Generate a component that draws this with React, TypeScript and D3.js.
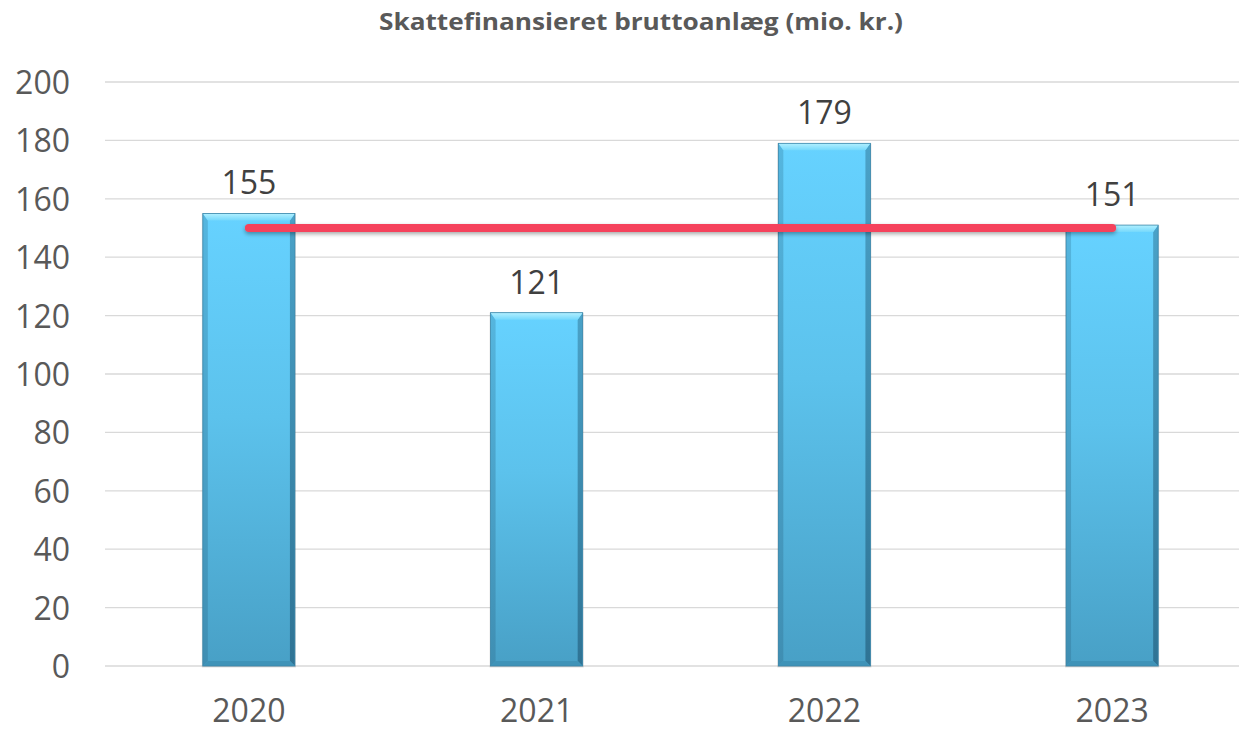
import React from "react";
import * as d3 from "d3";

const categories = ["2020", "2021", "2022", "2023"];
const values = [155, 121, 179, 151];
const averageValue = 150;
const yTicks = [0, 20, 40, 60, 80, 100, 120, 140, 160, 180, 200];
const title = "Skattefinansieret bruttoanlæg (mio. kr.)";

const W = 1239;
const H = 730;
const margin = { left: 105, right: -17, top: 82, bottom: 64 };

export default function App() {
  const x = d3
    .scaleBand<string>()
    .domain(categories)
    .range([margin.left, W - margin.right])
    .paddingInner(0.68)
    .paddingOuter(0.34);
  const y = d3.scaleLinear().domain([0, 200]).range([H - margin.bottom, margin.top]);
  const bw = x.bandwidth();
  const font = "'Open Sans', sans-serif";
  const bev = 5;
  const bevTop = 7;
  const lineY = y(averageValue);
  const lx1 = x(categories[0])! + bw / 2;
  const lx2 = x(categories[categories.length - 1])! + bw / 2;

  return (
    <svg width={W} height={H} style={{ position: "absolute", left: 0, top: 0, background: "#fff" }}>
      <defs>
        <linearGradient id="barV" x1="0" y1="0" x2="0" y2="1">
          <stop offset="0%" stopColor="#66d2ff" />
          <stop offset="45%" stopColor="#5cc2ec" />
          <stop offset="100%" stopColor="#48a0c6" />
        </linearGradient>
        <linearGradient id="sideL" x1="0" y1="0" x2="0" y2="1">
          <stop offset="0%" stopColor="#55b6df" />
          <stop offset="100%" stopColor="#3f8eb2" />
        </linearGradient>
        <linearGradient id="sideR" x1="0" y1="0" x2="0" y2="1">
          <stop offset="0%" stopColor="#4aa2c8" />
          <stop offset="100%" stopColor="#2f7394" />
        </linearGradient>
        <linearGradient id="topBev" x1="0" y1="0" x2="0" y2="1">
          <stop offset="0%" stopColor="#b2f0ff" />
          <stop offset="100%" stopColor="#74d8fc" />
        </linearGradient>
        <filter
          id="shadow"
          filterUnits="userSpaceOnUse"
          x={lx1 - 20}
          y={lineY - 20}
          width={lx2 - lx1 + 40}
          height={40}
        >
          <feGaussianBlur in="SourceAlpha" stdDeviation="2" />
          <feOffset dx="0" dy="2" result="b" />
          <feComponentTransfer>
            <feFuncA type="linear" slope="0.35" />
          </feComponentTransfer>
          <feMerge>
            <feMergeNode />
            <feMergeNode in="SourceGraphic" />
          </feMerge>
        </filter>
      </defs>
      <text
        x={641}
        y={30}
        textAnchor="middle"
        fontFamily={font}
        fontWeight={700}
        fontSize={24}
        fill="#595959"
        textLength={524}
        lengthAdjust="spacingAndGlyphs"
      >
        {title}
      </text>
      {yTicks.map((t) => (
        <g key={t}>
          <line x1={margin.left} x2={W} y1={y(t)} y2={y(t)} stroke="#d9d9d9" strokeWidth={1.3} />
          <text
            x={70}
            y={y(t) + 12}
            textAnchor="end"
            fontFamily={font}
            fontSize={32}
            fill="#595959"
          >
            {t}
          </text>
        </g>
      ))}
      {categories.map((c, i) => {
        const x0 = x(c)!;
        const yt = y(values[i]);
        const yb = y(0);
        const h = yb - yt;
        return (
          <g key={c}>
            <rect x={x0 - 1} y={yt} width={bw + 2} height={h + 1.5} fill="#000" opacity={0.12} />
            <rect x={x0} y={yt} width={bw} height={h} fill="url(#barV)" />
            <polygon
              points={`${x0},${yt} ${x0 + bev},${yt + bevTop} ${x0 + bev},${yb - bev} ${x0},${yb}`}
              fill="url(#sideL)"
            />
            <polygon
              points={`${x0 + bw},${yt} ${x0 + bw - bev},${yt + bevTop} ${x0 + bw - bev},${yb - bev} ${x0 + bw},${yb}`}
              fill="url(#sideR)"
            />
            <polygon
              points={`${x0},${yt} ${x0 + bw},${yt} ${x0 + bw - bev},${yt + bevTop} ${x0 + bev},${yt + bevTop}`}
              fill="url(#topBev)"
            />
            <polygon
              points={`${x0},${yb} ${x0 + bw},${yb} ${x0 + bw - bev},${yb - bev} ${x0 + bev},${yb - bev}`}
              fill="#3f93b8"
            />
            <rect x={x0} y={yt} width={bw} height={h} fill="none" stroke="#3c86a8" strokeWidth={0.8} />
            <text
              x={x0 + bw / 2}
              y={yt - 19}
              textAnchor="middle"
              fontFamily={font}
              fontSize={32}
              fill="#404040"
            >
              {values[i]}
            </text>
            <text
              x={x0 + bw / 2}
              y={722}
              textAnchor="middle"
              fontFamily={font}
              fontSize={32}
              fill="#595959"
            >
              {c}
            </text>
          </g>
        );
      })}
      <line
        x1={lx1}
        x2={lx2}
        y1={lineY}
        y2={lineY}
        stroke="#f5435c"
        strokeWidth={8}
        strokeLinecap="round"
        filter="url(#shadow)"
      />
    </svg>
  );
}
